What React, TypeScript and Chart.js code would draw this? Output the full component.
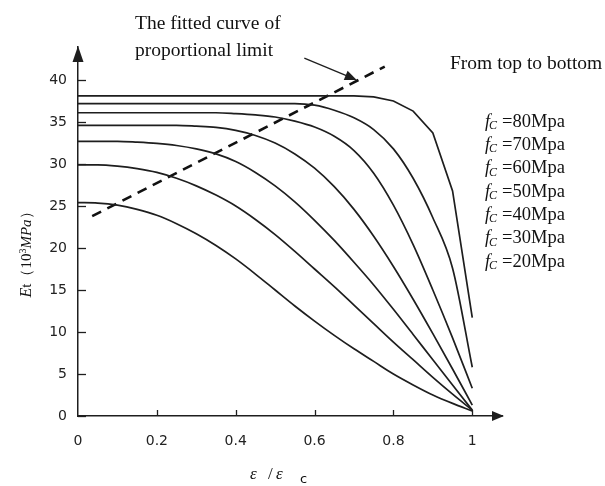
import React, { useEffect, useRef } from "react";
import { Chart, registerables } from "chart.js";

Chart.register(...registerables);

// ε/εc sample points (step 0.05)
const strainRatio = [0, 0.05, 0.1, 0.15, 0.2, 0.25, 0.3, 0.35, 0.4, 0.45, 0.5, 0.55, 0.6, 0.65, 0.7, 0.75, 0.8, 0.85, 0.9, 0.95, 1.0];

// Et (10^3 MPa) for each concrete strength
const et80 = [38.1, 38.1, 38.1, 38.1, 38.1, 38.1, 38.1, 38.1, 38.1, 38.1, 38.1, 38.1, 38.1, 38.1, 38.1, 38.0, 37.5, 36.3, 33.7, 26.8, 11.7];
const et70 = [37.2, 37.2, 37.2, 37.2, 37.2, 37.2, 37.2, 37.2, 37.2, 37.2, 37.2, 37.2, 37.0, 36.4, 35.5, 34.1, 31.8, 28.3, 23.6, 17.6, 5.8];
const et60 = [36.1, 36.1, 36.1, 36.1, 36.1, 36.1, 36.1, 36.1, 36.0, 35.85, 35.6, 35.1, 34.4, 33.3, 31.6, 28.9, 25.1, 20.4, 15.0, 9.3, 3.3];
const et50 = [34.6, 34.6, 34.6, 34.6, 34.6, 34.6, 34.5, 34.35, 34.0, 33.4, 32.5, 31.2, 29.5, 27.3, 24.6, 21.4, 17.8, 13.9, 9.8, 5.6, 1.3];
const et40 = [32.7, 32.7, 32.7, 32.6, 32.45, 32.2, 31.8, 31.2, 30.3, 29.0, 27.4, 25.5, 23.3, 20.9, 18.3, 15.6, 12.7, 9.7, 6.7, 3.7, 0.7];
const et30 = [29.9, 29.9, 29.75, 29.45, 29.0, 28.3, 27.4, 26.3, 25.0, 23.4, 21.6, 19.6, 17.5, 15.4, 13.2, 11.0, 8.8, 6.7, 4.6, 2.6, 0.7];
const et20 = [25.4, 25.35, 25.1, 24.6, 23.9, 22.9, 21.7, 20.3, 18.7, 16.9, 15.0, 13.1, 11.3, 9.6, 8.0, 6.5, 5.0, 3.7, 2.5, 1.5, 0.6];

const seriesList = [et80, et70, et60, et50, et40, et30, et20];
const legendLabels = ["=80Mpa", "=70Mpa", "=60Mpa", "=50Mpa", "=40Mpa", "=30Mpa", "=20Mpa"];

// fitted curve of proportional limit (straight dashed line)
const limitX = [0.036, 0.778];
const limitY = [23.8, 41.6];

// annotation arrow (data coords)
const arrowFrom = { x: 0.574, y: 42.6 };
const arrowTo = { x: 0.707, y: 40.0 };

const X_MAX = 1.0754;
const Y_MAX = 43.93;

const SERIF = "'Liberation Serif', 'Times New Roman', serif";
const SANS = "'DejaVu Sans', Verdana, sans-serif";

const decorPlugin = {
  id: "decor",
  afterDraw(chart: any) {
    const { ctx, chartArea, scales } = chart;
    const xs = scales.x;
    const ys = scales.y;
    const { left, right, top, bottom } = chartArea;
    ctx.save();
    ctx.strokeStyle = "#1e1e1e";
    ctx.fillStyle = "#1e1e1e";
    ctx.lineWidth = 1.3;

    // inward tick marks
    ys.ticks.forEach((t: any) => {
      const py = Math.round(ys.getPixelForValue(t.value)) + 0.5;
      ctx.beginPath();
      ctx.moveTo(left, py);
      ctx.lineTo(left + 8, py);
      ctx.stroke();
    });
    xs.ticks.forEach((t: any) => {
      if (t.value === 0) return;
      const px = Math.round(xs.getPixelForValue(t.value)) + 0.5;
      ctx.beginPath();
      ctx.moveTo(px, bottom);
      ctx.lineTo(px, bottom - 6);
      ctx.stroke();
    });

    // axis arrowheads
    ctx.beginPath();
    ctx.moveTo(left, top - 1);
    ctx.lineTo(left - 5.5, top + 15);
    ctx.lineTo(left + 5.5, top + 15);
    ctx.closePath();
    ctx.fill();
    ctx.beginPath();
    ctx.moveTo(right + 2, bottom);
    ctx.lineTo(right - 10, bottom - 5);
    ctx.lineTo(right - 10, bottom + 5);
    ctx.closePath();
    ctx.fill();

    // annotation arrow
    const ax0 = xs.getPixelForValue(arrowFrom.x);
    const ay0 = ys.getPixelForValue(arrowFrom.y);
    const ax1 = xs.getPixelForValue(arrowTo.x);
    const ay1 = ys.getPixelForValue(arrowTo.y);
    const ang = Math.atan2(ay1 - ay0, ax1 - ax0);
    ctx.lineWidth = 1.3;
    ctx.beginPath();
    ctx.moveTo(ax0, ay0);
    ctx.lineTo(ax1 - 8 * Math.cos(ang), ay1 - 8 * Math.sin(ang));
    ctx.stroke();
    ctx.beginPath();
    ctx.moveTo(ax1, ay1);
    ctx.lineTo(ax1 - 12 * Math.cos(ang) + 5 * Math.sin(ang), ay1 - 12 * Math.sin(ang) - 5 * Math.cos(ang));
    ctx.lineTo(ax1 - 12 * Math.cos(ang) - 5 * Math.sin(ang), ay1 - 12 * Math.sin(ang) + 5 * Math.cos(ang));
    ctx.closePath();
    ctx.fill();

    // annotation texts
    ctx.fillStyle = "#111";
    ctx.textBaseline = "middle";
    ctx.textAlign = "left";
    ctx.font = `19.5px ${SERIF}`;
    ctx.fillText("The fitted curve of", 135, 24);
    ctx.fillText("proportional limit", 135, 51);
    ctx.fillText("From top to bottom", 450, 64);

    // legend list
    legendLabels.forEach((lab, i) => {
      const cy = 122 + i * 23.3;
      let x = 485;
      ctx.font = `italic 18px ${SERIF}`;
      ctx.fillText("f", x, cy);
      x += ctx.measureText("f").width;
      ctx.font = `italic 12px ${SERIF}`;
      ctx.fillText("C", x - 1, cy + 4);
      x += ctx.measureText("C").width + 4;
      ctx.font = `18.5px ${SERIF}`;
      ctx.fillText(lab, x, cy);
    });

    // x-axis title: ε / εc
    ctx.font = `italic 17px ${SERIF}`;
    ctx.fillText("ε", 250, 475);
    ctx.font = `17px ${SERIF}`;
    ctx.fillText("/", 268, 475);
    ctx.font = `italic 17px ${SERIF}`;
    ctx.fillText("ε", 276, 475);
    ctx.font = `13px ${SANS}`;
    ctx.fillText("c", 300, 480);

    // y-axis title (rotated)
    ctx.translate(27, 251);
    ctx.rotate(-Math.PI / 2);
    const parts = [
      { t: "E", f: `italic 16px ${SERIF}`, dy: 0 },
      { t: "t", f: `15px ${SERIF}`, dy: 0 },
      { t: "（", f: `15px ${SERIF}`, dy: 0 },
      { t: "10", f: `15px ${SERIF}`, dy: 0 },
      { t: "3", f: `10px ${SERIF}`, dy: -4 },
      { t: "MPa", f: `italic 15px ${SERIF}`, dy: 0 },
      { t: "）", f: `15px ${SERIF}`, dy: 0 },
    ];
    let total = 0;
    parts.forEach((p) => {
      ctx.font = p.f;
      total += ctx.measureText(p.t).width;
    });
    let cx = -total / 2;
    parts.forEach((p) => {
      ctx.font = p.f;
      ctx.fillText(p.t, cx, p.dy);
      cx += ctx.measureText(p.t).width;
    });
    ctx.restore();
  },
};

export default function App() {
  const ref = useRef<HTMLCanvasElement | null>(null);
  useEffect(() => {
    if (!ref.current) return;
    const datasets: any[] = seriesList.map((vals, i) => ({
      label: legendLabels[i],
      data: strainRatio.map((x, j) => ({ x, y: vals[j] })),
      borderColor: "#1e1e1e",
      borderWidth: 1.7,
      pointRadius: 0,
      cubicInterpolationMode: i === 0 ? "default" : "monotone",
      tension: 0,
      fill: false,
    }));
    datasets.push({
      label: "limit",
      data: limitX.map((x, j) => ({ x, y: limitY[j] })),
      borderColor: "#111",
      borderWidth: 2.6,
      borderDash: [10, 7],
      pointRadius: 0,
      fill: false,
    });
    const chart = new Chart(ref.current, {
      type: "line",
      data: { datasets },
      plugins: [decorPlugin],
      options: {
        animation: false,
        responsive: false,
        devicePixelRatio: 1,
        layout: { padding: { left: 0, top: 47, right: 103, bottom: 0 } },
        plugins: { legend: { display: false }, tooltip: { enabled: false } },
        scales: {
          x: {
            type: "linear",
            min: 0,
            max: X_MAX,
            afterFit: (s: any) => {
              s.height = 70;
            },
            grid: { display: false, drawTicks: false },
            border: { display: true, color: "#1e1e1e", width: 1.5 },
            ticks: {
              stepSize: 0.2,
              includeBounds: false,
              padding: 17,
              color: "#222",
              font: { family: SANS, size: 14 },
              maxRotation: 0,
              callback: (v: any) => String(Number(Number(v).toFixed(1))),
            },
          },
          y: {
            type: "linear",
            min: 0,
            max: Y_MAX,
            afterFit: (s: any) => {
              s.width = 78;
            },
            grid: { display: false, drawTicks: false },
            border: { display: true, color: "#1e1e1e", width: 1.5 },
            ticks: {
              stepSize: 5,
              includeBounds: false,
              padding: 11,
              color: "#222",
              font: { family: SANS, size: 14 },
            },
          },
        },
      },
    });
    return () => chart.destroy();
  }, []);
  return (
    <div style={{ position: "fixed", left: 0, top: 0, width: 605, height: 486, background: "#fff" }}>
      <canvas ref={ref} width={605} height={486} style={{ width: 605, height: 486 }} />
    </div>
  );
}
